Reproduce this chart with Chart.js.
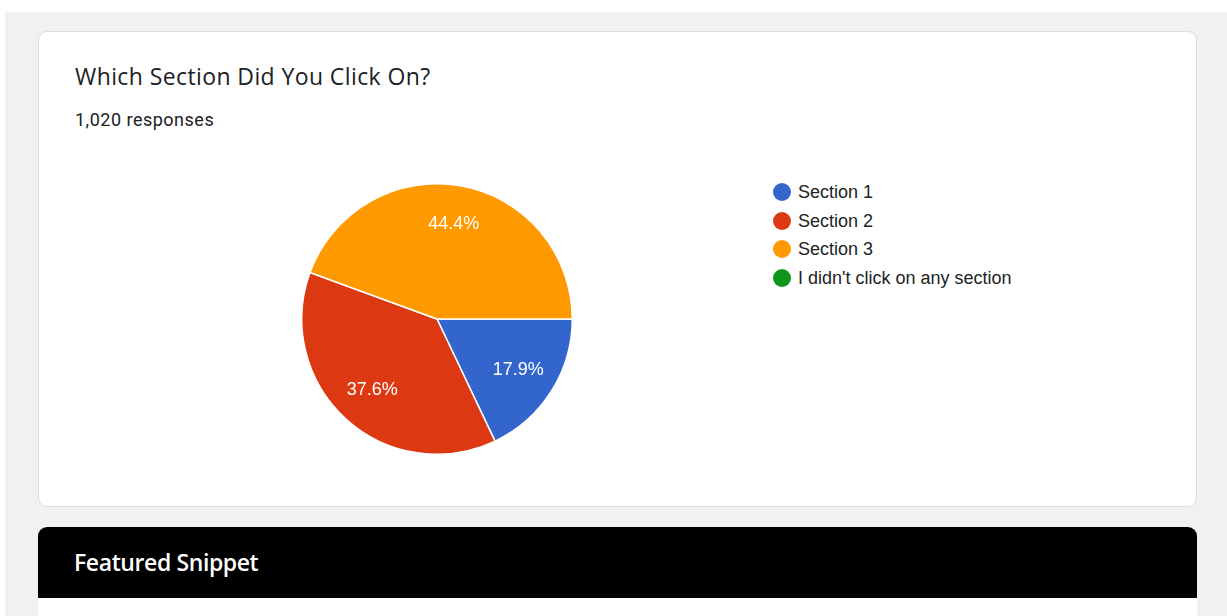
<!DOCTYPE html>
<html>
<head>
<meta charset="utf-8">
<script src="https://cdn.jsdelivr.net/npm/chart.js@4/dist/chart.umd.min.js"></script>
<style>
  html, body { margin: 0; padding: 0; background: #fff; }
  body { width: 1227px; height: 616px; overflow: hidden; position: relative; }
  .page { position: absolute; left: 5px; top: 12px; right: 0; bottom: 0; background: #f1f1f1; }
  .card {
    position: absolute; left: 38px; top: 31px; width: 1157px; height: 474px;
    background: #fff; border: 1px solid #dadce0; border-radius: 9px;
  }
  .title {
    position: absolute; left: 75px; top: 60px; font-family: "Open Sans", sans-serif;
    font-size: 23px; color: #202124; letter-spacing: 0.4px;
  }
  .sub {
    position: absolute; left: 75px; top: 109px; font-family: Roboto, sans-serif;
    font-size: 18px; color: #202124; letter-spacing: 0.5px;
  }
  #wrap { position: absolute; left: 297px; top: 179px; width: 280px; height: 280px; }
  .legend { position: absolute; left: 772px; top: 180px; font-family: "Liberation Sans", Arial, sans-serif; font-size: 18px; color: #222; }
  .legend div { height: 28.7px; line-height: 24px; position: relative; padding-left: 26px; }
  .legend span.dot { position: absolute; left: 1px; top: 3px; width: 18px; height: 18px; border-radius: 50%; }
  .snip {
    position: absolute; left: 38px; top: 527px; width: 1159px; height: 100px;
    background: #fff; border-radius: 9px 9px 0 0; overflow: hidden;
  }
  .snip .head {
    height: 71px; background: #000; color: #fff; font-family: "Open Sans", sans-serif;
    font-size: 23px; font-weight: 600; letter-spacing: -0.4px; line-height: 70px; padding-left: 36px;
  }
</style>
</head>
<body>
<div class="page"></div>
<div class="card"></div>
<div class="title">Which Section Did You Click On?</div>
<div class="sub">1,020 responses</div>
<div id="wrap"><canvas id="pie"></canvas></div>
<div class="legend" id="legend"></div>
<div class="snip"><div class="head">Featured Snippet</div></div>
<script>
'use strict';

// data (1,020 responses)
const labels = ['Section 1', 'Section 2', 'Section 3', "I didn't click on any section"];
const responses = [183, 384, 453, 0];
const sliceColors = ['#3366cc', '#dc3912', '#ff9900', '#109618'];

// legend built from the same arrays
document.getElementById('legend').innerHTML = labels.map((l, i) =>
    `<div><span class="dot" style="background:${sliceColors[i]}"></span>${l}</div>`
).join('');

// percentage labels inside slices
const pctLabels = {
    id: 'pctLabels',
    afterDatasetsDraw(chart) {
        const ctx = chart.ctx;
        const data = chart.data.datasets[0].data;
        const total = data.reduce((s, v) => s + v, 0);
        ctx.save();
        ctx.fillStyle = '#fff';
        ctx.font = '18px "Liberation Sans", Arial, sans-serif';
        ctx.textAlign = 'center';
        ctx.textBaseline = 'middle';
        chart.getDatasetMeta(0).data.forEach((arc, i) => {
            if (!data[i]) return;
            const p = arc.getProps(['x', 'y', 'startAngle', 'endAngle', 'outerRadius']);
            const mid = (p.startAngle + p.endAngle) / 2;
            const r = p.outerRadius * 0.71;
            ctx.fillText((data[i] / total * 100).toFixed(1) + '%', p.x + Math.cos(mid) * r, p.y + Math.sin(mid) * r);
        });
        ctx.restore();
    }
};

new Chart(document.getElementById('pie'), {
    type: 'pie',
    data: {
        labels: labels,
        datasets: [{
            data: responses,
            backgroundColor: sliceColors,
            borderColor: '#fff',
            borderWidth: 1.5
        }]
    },
    options: {
        responsive: true,
        maintainAspectRatio: false,
        animation: false,
        rotation: 90,
        layout: { padding: 4 },
        plugins: {
            legend: { display: false },
            tooltip: { enabled: false }
        }
    },
    plugins: [pctLabels]
});
</script>
</body>
</html>
